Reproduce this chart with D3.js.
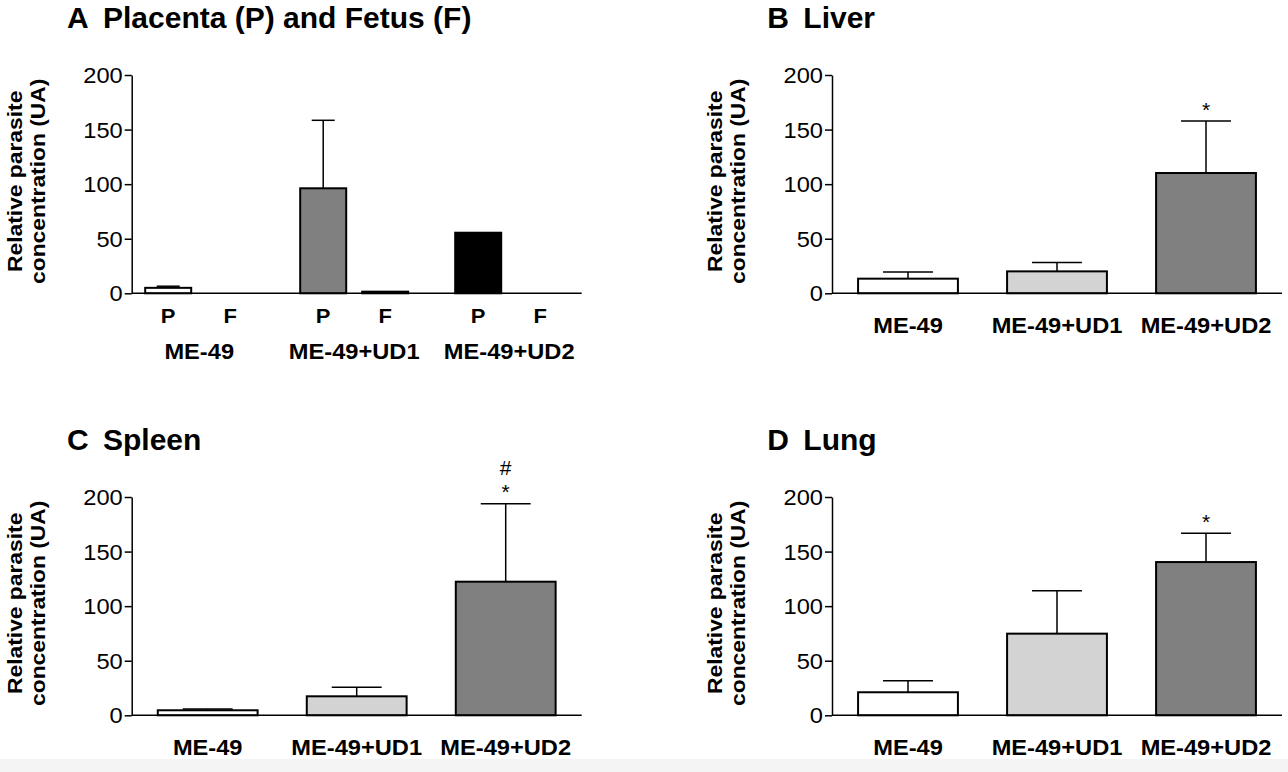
<!DOCTYPE html>
<html>
<head>
  <meta charset="utf-8">
  <title>Relative parasite concentration</title>
  <style>
    body { margin: 0; background: #fff; }
  </style>
</head>
<body>

<svg width="1288" height="772" viewBox="0 0 1288 772"></svg>

<script src="https://d3js.org/d3.v7.min.js"></script>
<script>
// values (mean and error, UA)
const groups = ['ME-49', 'ME-49+UD1', 'ME-49+UD2'];
const tissues = ['P', 'F'];
const yTicks = [0, 50, 100, 150, 200];

const placentaMean = [5, 96.2, 55.5];
const placentaErr = [1.5, 62.3, 0];
const fetusMean = [0, 1.5, 0];
const fetusErr = [0, 0, 0];

const liverMean = [13.4, 20.1, 110.2];
const liverErr = [6.1, 8.2, 47.7];
const liverMarks = [[], [], ['*']];

const spleenMean = [4.6, 17.4, 122.4];
const spleenErr = [1.2, 8.3, 71.5];
const spleenMarks = [[], [], ['*', '#']];

const lungMean = [21.1, 74.8, 140.4];
const lungErr = [10.6, 39.4, 26.3];
const lungMarks = [[], [], ['*']];

const svg = d3.select('svg');
const font = '"Liberation Sans", Arial, sans-serif';
const axisLen = 450;
const plotH = 218.3;
const fillsA = ['#ffffff', '#808080', '#000000'];
const fills = ['#ffffff', '#d3d3d3', '#808080'];

// faint strip along the bottom edge of the scan
svg.append('rect')
  .attr('x', 0).attr('y', 759).attr('width', 1288).attr('height', 13)
  .attr('fill', '#f4f4f4');

function addText (parent, x, y, str, opt) {
  const sx = opt.sx || 1;
  const rot = opt.rotate ? ` rotate(${opt.rotate})` : '';
  return parent.append('text')
    .attr('transform', `translate(${x},${y})${rot} scale(${sx},1)`)
    .attr('font-family', font)
    .attr('font-size', opt.size + 'px')
    .attr('font-weight', opt.weight || 'normal')
    .attr('text-anchor', opt.anchor || 'start')
    .attr('fill', '#000')
    .text(str);
}

const panels = [
  { letter: 'A', title: 'Placenta (P) and Fetus (F)', left: 131.7, base: 293.3, nested: true },
  { letter: 'B', title: 'Liver', left: 832, base: 293.3, mean: liverMean, err: liverErr, marks: liverMarks },
  { letter: 'C', title: 'Spleen', left: 131.7, base: 715.3, mean: spleenMean, err: spleenErr, marks: spleenMarks },
  { letter: 'D', title: 'Lung', left: 832, base: 715.3, mean: lungMean, err: lungErr, marks: lungMarks },
];

panels.forEach(p => {
  const g = svg.append('g').attr('transform', `translate(${p.left},${p.base})`);
  const y = d3.scaleLinear().domain([0, 200]).range([0, -plotH]);

  // titles
  addText(svg, p.left - 64.7, p.base - 265, p.letter, { size: 30, weight: 'bold' });
  addText(svg, p.left - 28.7, p.base - 265, p.title, { size: 30, weight: 'bold' });

  // y label (two lines, stretched along the text)
  addText(svg, p.left - 110.2, p.base - 112, 'Relative parasite',
    { size: 19.5, weight: 'bold', anchor: 'middle', rotate: -90, sx: 1.17 });
  addText(svg, p.left - 86.6, p.base - 112, 'concentration (UA)',
    { size: 19.5, weight: 'bold', anchor: 'middle', rotate: -90, sx: 1.17 });

  // build bars
  let bars = [];
  if (p.nested) {
    const xGroup = d3.scalePoint().domain(groups).range([67.5, 377.5]);
    const xSub = d3.scaleBand().domain(tissues).range([-62, 62])
      .paddingInner(0.258).paddingOuter(0.129);
    groups.forEach((grp, i) => {
      bars.push({ x: xGroup(grp) + xSub('P'), w: xSub.bandwidth(), v: placentaMean[i], e: placentaErr[i], fill: fillsA[i], marks: [] });
      bars.push({ x: xGroup(grp) + xSub('F'), w: xSub.bandwidth(), v: fetusMean[i], e: fetusErr[i], fill: '#ffffff', marks: [] });
      tissues.forEach(t => {
        addText(g, xGroup(grp) + xSub(t) + xSub.bandwidth() / 2, 29.4, t,
          { size: 20, weight: 'bold', anchor: 'middle', sx: 1.1 });
      });
      addText(g, xGroup(grp), 65.7, grp, { size: 21.5, weight: 'bold', anchor: 'middle', sx: 1.1 });
    });
  } else {
    const x = d3.scaleBand().domain(groups).range([0, axisLen])
      .paddingInner(0.33).paddingOuter(0.175);
    groups.forEach((grp, i) => {
      bars.push({ x: x(grp), w: x.bandwidth(), v: p.mean[i], e: p.err[i], fill: fills[i], marks: p.marks[i] });
      addText(g, x(grp) + x.bandwidth() / 2, 40, grp, { size: 21.5, weight: 'bold', anchor: 'middle', sx: 1.1 });
    });
  }
  bars = bars.filter(d => d.v > 0);

  // error bars (upper only)
  const eb = g.selectAll('.err').data(bars.filter(d => d.e > 0)).enter().append('g');
  eb.append('line')
    .attr('x1', d => d.x + d.w / 2).attr('x2', d => d.x + d.w / 2)
    .attr('y1', d => y(d.v)).attr('y2', d => y(d.v + d.e))
    .attr('stroke', '#000').attr('stroke-width', 1.5);
  eb.append('line')
    .attr('x1', d => d.x + d.w / 4).attr('x2', d => d.x + d.w * 3 / 4)
    .attr('y1', d => y(d.v + d.e)).attr('y2', d => y(d.v + d.e))
    .attr('stroke', '#000').attr('stroke-width', 1.5);

  // bars
  g.selectAll('.bar').data(bars).enter().append('rect')
    .attr('x', d => d.x)
    .attr('y', d => y(d.v))
    .attr('width', d => d.w)
    .attr('height', d => y(0) - y(d.v))
    .attr('fill', d => d.fill)
    .attr('stroke', '#000')
    .attr('stroke-width', 2);

  // significance marks, stacked upwards
  bars.forEach(d => {
    d.marks.forEach((m, k) => {
      addText(g, d.x + d.w / 2, y(d.v + d.e) - 4.4 - k * 24, m, { size: 21, anchor: 'middle' });
    });
  });

  // axes
  g.append('line')
    .attr('x1', 0).attr('x2', axisLen).attr('y1', 0).attr('y2', 0)
    .attr('stroke', '#000').attr('stroke-width', 1.5);
  const ax = g.append('g')
    .call(d3.axisLeft(y).tickValues(yTicks).tickSize(7).tickSizeOuter(0).tickPadding(2));
  ax.select('.domain').attr('stroke-width', 1.5);
  ax.selectAll('.tick line').attr('stroke-width', 1.5);
  ax.selectAll('.tick text')
    .attr('font-family', font)
    .attr('font-size', '21.5px')
    .attr('fill', '#000')
    .attr('x', -9 / 1.1)
    .attr('dy', '0.35em')
    .attr('transform', 'scale(1.1,1)');
});
</script>

</body>
</html>
